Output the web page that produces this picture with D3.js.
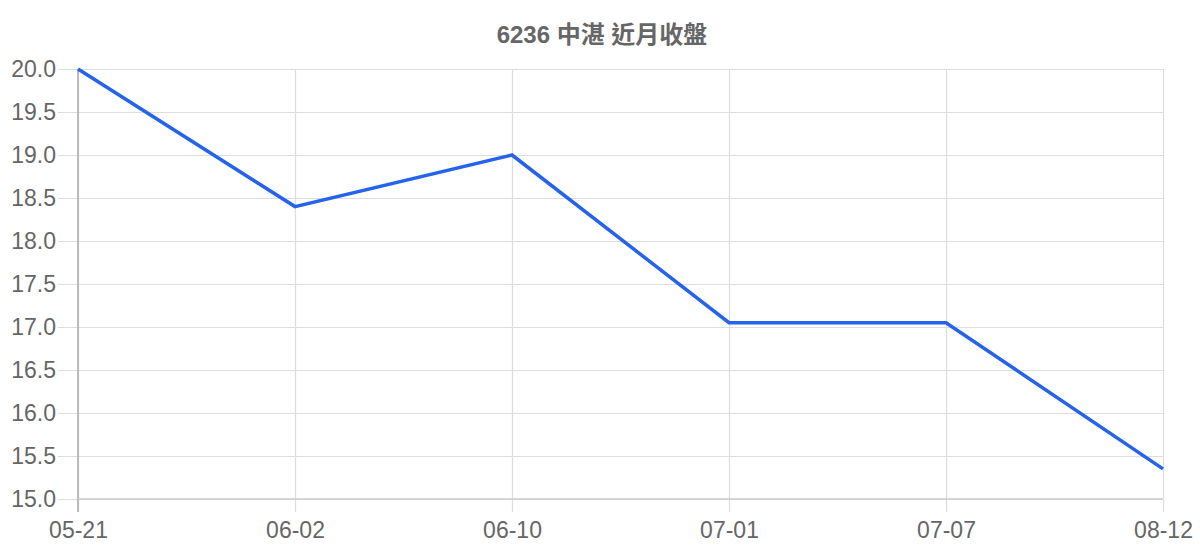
<!DOCTYPE html>
<html>
<head>
<meta charset="utf-8">
<script src="https://cdn.jsdelivr.net/npm/d3@7"></script>
<style>
  body { margin: 0; background: #fff; }
  text { font-family: "Liberation Sans", Arial, "Noto Sans CJK TC", sans-serif; }
</style>
</head>
<body>
<svg width="1200" height="560"></svg>
<script>
const title = '6236 中湛 近月收盤';
const dates = ['05-21', '06-02', '06-10', '07-01', '07-07', '08-12'];
const closes = [20.0, 18.4, 19.0, 17.05, 17.05, 15.35];
const yTicks = [15.0, 15.5, 16.0, 16.5, 17.0, 17.5, 18.0, 18.5, 19.0, 19.5, 20.0];

const svg = d3.select('svg');
const mLeft = 78, mRight = 1163, mTop = 69, mBottom = 499;

const x = d3.scalePoint().domain(dates).range([mLeft, mRight]);
const y = d3.scaleLinear().domain([15, 20]).range([mBottom, mTop]);

// title
svg.append('text')
  .attr('x', 602).attr('y', 43)
  .attr('text-anchor', 'middle')
  .attr('font-size', 24).attr('font-weight', 'bold')
  .attr('fill', '#666')
  .text(title);

// horizontal grid + y labels
const yAxis = svg.append('g').attr('transform', `translate(${mLeft},0)`)
  .call(d3.axisLeft(y).tickValues(yTicks).tickFormat(d3.format('.1f'))
    .tickSize(-(mRight - mLeft)).tickPadding(22));
yAxis.select('.domain').remove();
yAxis.selectAll('.tick line').attr('stroke', '#ddd').attr('stroke-width', 1.2)
  .attr('x1', -20).attr('x2', mRight - mLeft);
yAxis.selectAll('.tick text').attr('fill', '#666').attr('font-size', 23)
  .attr('font-family', '"Liberation Sans", Arial, sans-serif').attr('x', -22);

// vertical grid + x labels
const xAxis = svg.append('g').attr('transform', `translate(0,${mBottom})`)
  .call(d3.axisBottom(x).tickSize(13).tickPadding(10));
xAxis.select('.domain').remove();
xAxis.selectAll('.tick line').attr('stroke', '#ddd').attr('stroke-width', 1.2)
  .attr('y1', -(mBottom - mTop)).attr('y2', 13);
xAxis.selectAll('.tick text').attr('fill', '#666').attr('font-size', 23)
  .attr('font-family', '"Liberation Sans", Arial, sans-serif');

// axis lines
svg.append('line').attr('x1', mLeft).attr('x2', mLeft).attr('y1', mTop).attr('y2', mBottom + 13)
  .attr('stroke', '#aaa').attr('stroke-width', 1.5);
svg.append('line').attr('x1', mLeft).attr('x2', mRight).attr('y1', mBottom).attr('y2', mBottom)
  .attr('stroke', '#ccc').attr('stroke-width', 1.5);

// line
svg.append('path')
  .datum(closes)
  .attr('fill', 'none')
  .attr('stroke', '#2563eb')
  .attr('stroke-width', 3.5)
  .attr('stroke-linejoin', 'miter')
  .attr('d', d3.line().x((d, i) => x(dates[i])).y(d => y(d)));
</script>
</body>
</html>
